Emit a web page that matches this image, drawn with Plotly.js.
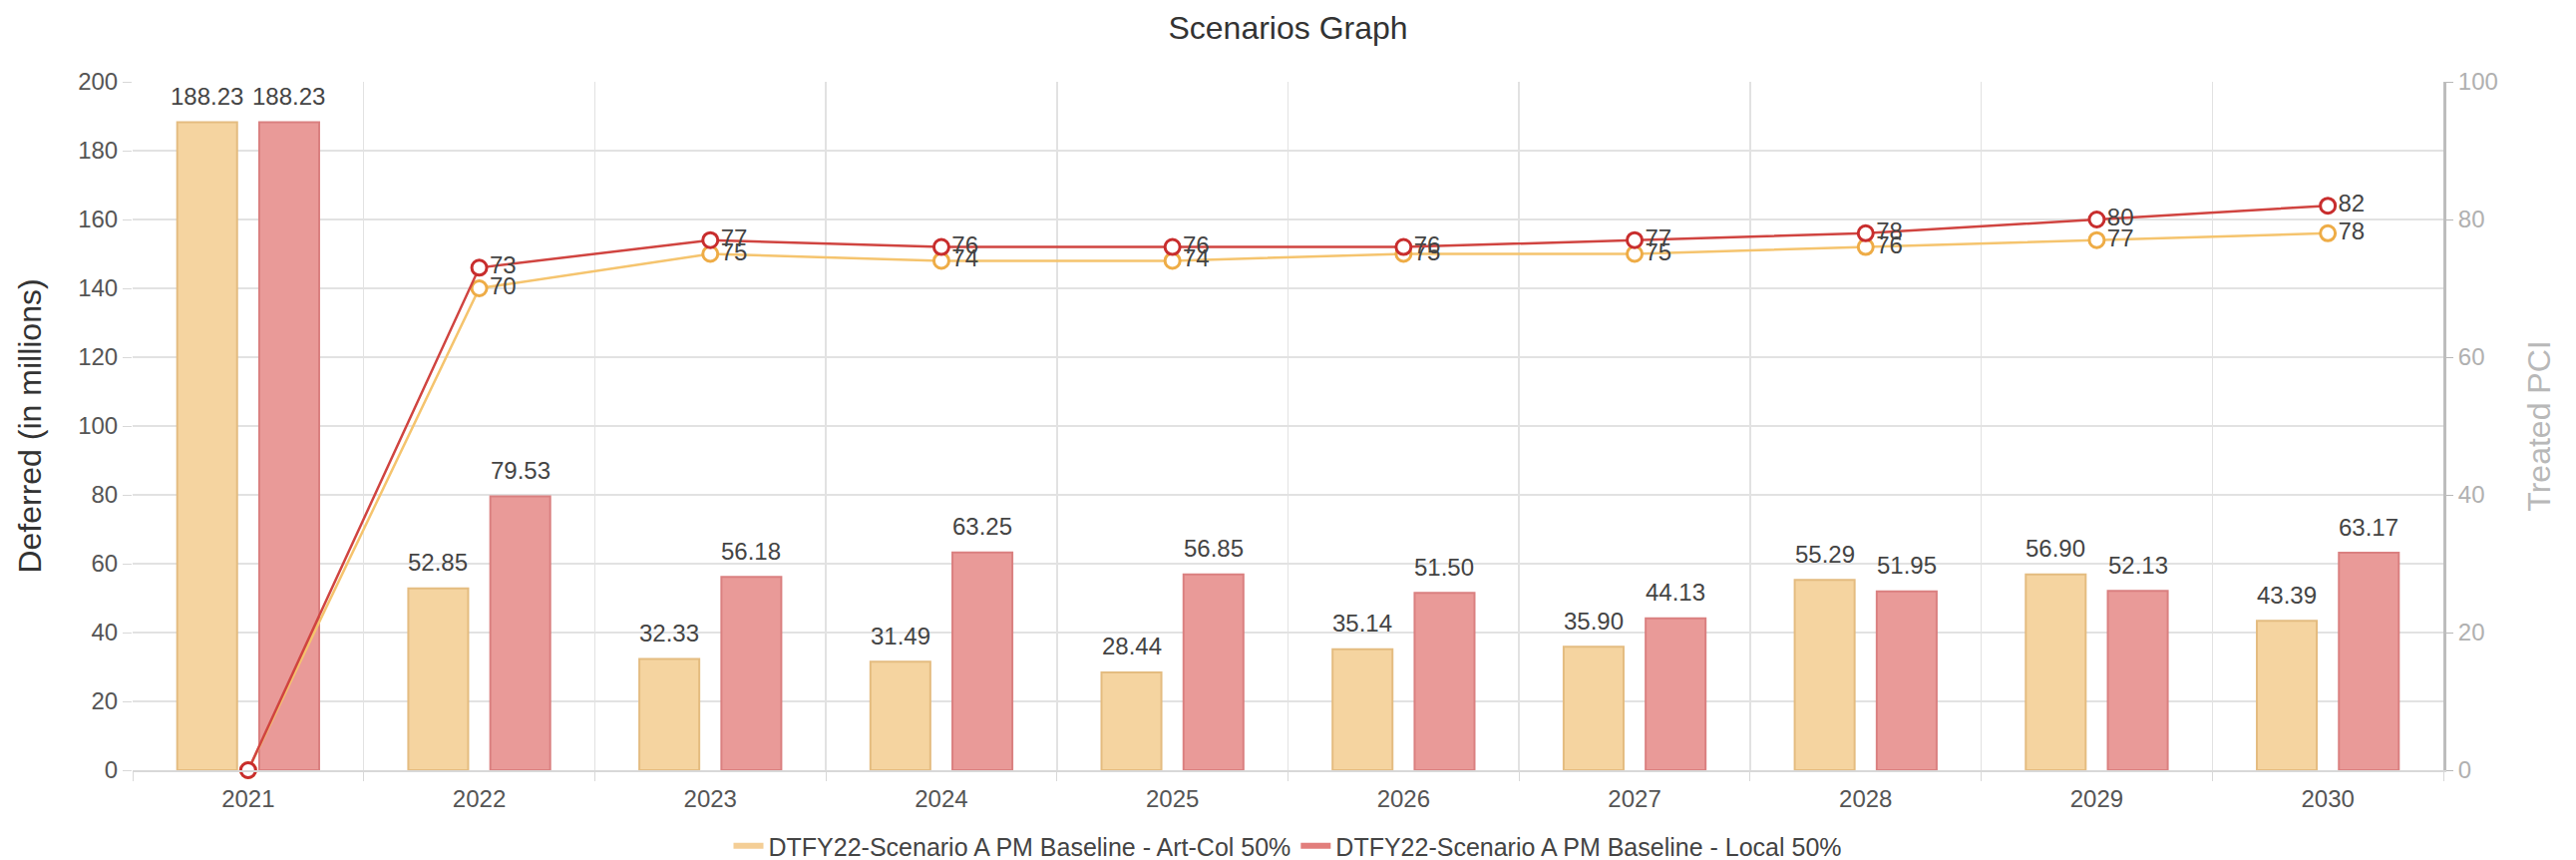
<!DOCTYPE html>
<html>
<head>
<meta charset="utf-8">
<script src="https://cdn.plot.ly/plotly-3.0.1.min.js"></script>
<style>
  html, body { margin: 0; padding: 0; background: #ffffff; }
  #chart { width: 2583px; height: 862px; }
</style>
</head>
<body>
<div id="chart"></div>
<script>
// ---- Data ----
const years = ['2021', '2022', '2023', '2024', '2025', '2026', '2027', '2028', '2029', '2030'];
const deferredArtCol = [188.23, 52.85, 32.33, 31.49, 28.44, 35.14, 35.90, 55.29, 56.90, 43.39];
const deferredLocal = [188.23, 79.53, 56.18, 63.25, 56.85, 51.50, 44.13, 51.95, 52.13, 63.17];
const pciArtCol = [0, 70, 75, 74, 74, 75, 75, 76, 77, 78];
const pciLocal = [0, 73, 77, 76, 76, 76, 77, 78, 80, 82];
const seriesNames = ['DTFY22-Scenario A PM Baseline - Art-Col 50%', 'DTFY22-Scenario A PM Baseline - Local 50%'];

const FONT = '"Liberation Sans", Arial, "DejaVu Sans", sans-serif';
const orangeFill = 'rgb(245,212,160)';
const orangeEdge = 'rgb(228,188,128)';
const redFill = 'rgb(233,154,152)';
const redEdge = 'rgb(218,128,128)';
const orangeLine = 'rgb(245,196,110)';
const orangeMarker = 'rgb(238,172,70)';
const redLine = 'rgb(208,68,64)';
const redMarker = 'rgb(200,45,45)';

const W = 2583, H = 862;
const M = { l: 133, r: 133, t: 82, b: 90, pad: 0 };
const BARGAP = 0.29, BARGROUPGAP = 0.27;

const lineText = a => a.map(v => v ? String(v) : '');

const traces = [
  {
    type: 'bar', x: years, y: deferredArtCol, name: seriesNames[0], legendgroup: 'a', showlegend: false,
    marker: { color: orangeFill, line: { color: orangeEdge, width: 2 } }, hoverinfo: 'x+y'
  },
  {
    type: 'bar', x: years, y: deferredLocal, name: seriesNames[1], legendgroup: 'b', showlegend: false,
    marker: { color: redFill, line: { color: redEdge, width: 2 } }, hoverinfo: 'x+y'
  },
  {
    type: 'scatter', mode: 'lines+markers+text', x: years, y: pciArtCol, yaxis: 'y2',
    name: seriesNames[0], legendgroup: 'a', showlegend: false, cliponaxis: false,
    line: { color: orangeLine, width: 2.5 },
    marker: { symbol: 'circle', size: 15, color: '#ffffff', line: { color: orangeMarker, width: 3 } },
    text: lineText(pciArtCol), textposition: 'middle right',
    textfont: { family: FONT, size: 24, color: '#444' }
  },
  {
    type: 'scatter', mode: 'lines+markers+text', x: years, y: pciLocal, yaxis: 'y2',
    name: seriesNames[1], legendgroup: 'b', showlegend: false, cliponaxis: false,
    line: { color: redLine, width: 2.5 },
    marker: { symbol: 'circle', size: 15, color: '#ffffff', line: { color: redMarker, width: 3 } },
    text: lineText(pciLocal), textposition: 'middle right',
    textfont: { family: FONT, size: 24, color: '#444' }
  },
  // legend entries (line-style swatches)
  { type: 'scatter', mode: 'lines', x: [null], y: [null], name: seriesNames[0], legendgroup: 'a',
    line: { color: 'rgb(244,206,150)', width: 6 }, hoverinfo: 'skip' },
  { type: 'scatter', mode: 'lines', x: [null], y: [null], name: seriesNames[1], legendgroup: 'b',
    line: { color: 'rgb(226,126,124)', width: 6 }, hoverinfo: 'skip' }
];

// value labels above bars, positioned through the axes (category index on x)
const catPx = (W - M.l - M.r) / years.length;
const barOffset = (1 - BARGAP) / 4 * catPx;
const annotations = [];
[[deferredArtCol, -1], [deferredLocal, 1]].forEach(([vals, side]) => {
  vals.forEach((v, i) => {
    annotations.push({
      x: i, y: v, xref: 'x', yref: 'y', text: v.toFixed(2), showarrow: false,
      xanchor: 'center', yanchor: 'middle', xshift: side * barOffset, yshift: 26,
      font: { family: FONT, size: 24, color: '#444' }
    });
  });
});

const layout = {
  width: W, height: H,
  paper_bgcolor: '#ffffff', plot_bgcolor: '#ffffff',
  font: { family: FONT, size: 24, color: '#555' },
  margin: M,
  title: { text: 'Scenarios Graph', x: 0.5, xanchor: 'center', y: 0.9675, yanchor: 'middle',
           font: { family: FONT, size: 32, color: '#333' } },
  barmode: 'group', bargap: BARGAP, bargroupgap: BARGROUPGAP,
  showlegend: true,
  legend: { orientation: 'h', x: 0.5, xanchor: 'center', xref: 'container',
            y: 1 - 848 / H, yanchor: 'middle', yref: 'container',
            font: { family: FONT, size: 25, color: '#444' }, itemwidth: 30, tracegroupgap: 0 },
  annotations: annotations,
  xaxis: {
    type: 'category', categoryorder: 'array', categoryarray: years,
    range: [-0.5, years.length - 0.5],
    tickson: 'boundaries', ticks: 'outside', ticklen: 9, tickcolor: '#d8d8d8',
    showgrid: true, gridcolor: '#e2e2e2', gridwidth: 1.5, automargin: false, tickangle: 0,
    showline: true, linecolor: '#d8d8d8', linewidth: 1.5, ticklabelstandoff: 7,
    tickfont: { family: FONT, size: 24, color: '#555' }, fixedrange: true
  },
  yaxis: {
    range: [0, 200], dtick: 20, tick0: 0, automargin: false,
    ticks: 'outside', ticklen: 9, tickcolor: '#d8d8d8',
    showgrid: true, gridcolor: '#e2e2e2', gridwidth: 1.5, zeroline: false, showline: false,
    tickfont: { family: FONT, size: 24, color: '#555' },
    title: { text: 'Deferred (in millions)', font: { family: FONT, size: 32, color: '#333' }, standoff: 26 }
  },
  yaxis2: {
    overlaying: 'y', side: 'right', range: [0, 100], dtick: 20, tick0: 0, automargin: false,
    ticks: 'outside', ticklen: 7, tickcolor: '#b8b8b8',
    showgrid: false, zeroline: false, showline: true, linecolor: '#bdbdbd', linewidth: 3,
    tickfont: { family: FONT, size: 24, color: '#b0b0b0' },
    title: { text: 'Treated PCI', font: { family: FONT, size: 32, color: '#b8b8b8' }, standoff: 31 }
  }
};

Plotly.newPlot('chart', traces, layout, { displayModeBar: false, staticPlot: true });
</script>
</body>
</html>
